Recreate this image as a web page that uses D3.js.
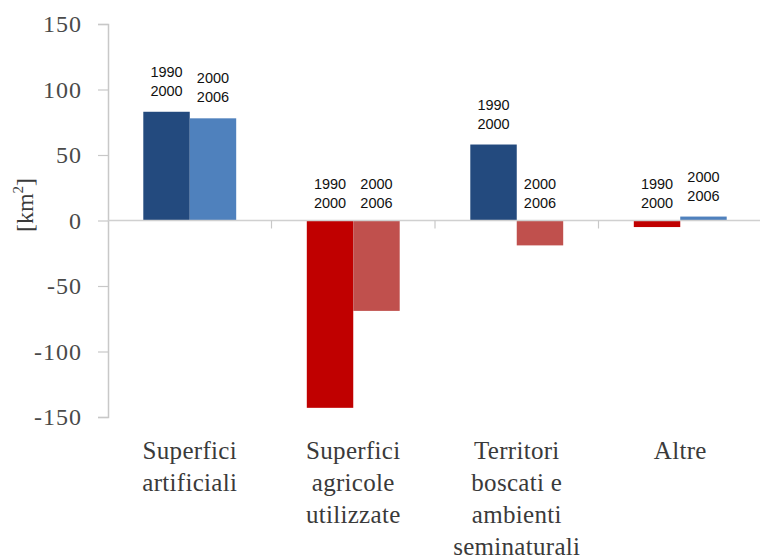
<!DOCTYPE html>
<html>
<head>
<meta charset="utf-8">
<script src="https://cdn.jsdelivr.net/npm/d3@7"></script>
<style>
  body { margin: 0; background: #fff; }
  svg { display: block; }
</style>
</head>
<body>
<div id="chart"></div>
<script>
// categories (each split into the lines shown under the axis)
const categories = ["Superfici artificiali", "Superfici agricole utilizzate", "Territori boscati e ambienti seminaturali", "Altre"];
const categoryLines = [
  ["Superfici", "artificiali"],
  ["Superfici", "agricole", "utilizzate"],
  ["Territori", "boscati e", "ambienti", "seminaturali"],
  ["Altre"]
];
const periods = ["1990-2000", "2000-2006"];
const periodLabels = [["1990", "2000"], ["2000", "2006"]];
const values1990_2000 = [83, -143, 58, -5];
const values2000_2006 = [78, -69, -19, 3];
const yTicks = [150, 100, 50, 0, -50, -100, -150];

const W = 760, H = 559;
const plot = { left: 108, right: 762, top: 24, bottom: 417 };
const serif = "Liberation Serif, Times New Roman, serif";

const svg = d3.select("#chart").append("svg")
  .attr("width", W)
  .attr("height", H);

var x0 = d3.scaleBand()
  .domain(categories)
  .range([plot.left, plot.right])
  .padding(0);

var x1 = d3.scaleBand()
  .domain(periods)
  .range([0, x0.bandwidth()])
  .paddingInner(0)
  .paddingOuter(0.76);

var y = d3.scaleLinear()
  .domain([-150, 150])
  .range([plot.bottom, plot.top]);

// colours: positive = blues, negative = reds
const colorPos = { "1990-2000": "#234a7e", "2000-2006": "#4f81bd" };
const colorNeg = { "1990-2000": "#c00000", "2000-2006": "#c0504d" };

// y axis
var yAxis = d3.axisLeft(y)
  .tickValues(yTicks)
  .tickSize(10)
  .tickPadding(16)
  .tickFormat(d => String(d).replace("\u2212", "-"));

var gy = svg.append("g")
  .attr("transform", `translate(${plot.left},0)`)
  .call(yAxis);
gy.select(".domain").attr("stroke", "#c8c8c8").attr("stroke-width", 1.5);
gy.selectAll(".tick line").attr("stroke", "#c8c8c8").attr("stroke-width", 1.2);
gy.selectAll(".tick text")
  .style("font-family", serif)
  .style("font-size", "24px")
  .style("letter-spacing", "1px")
  .attr("fill", "#4a4a4a");

// y label
svg.append("text")
  .attr("transform", `translate(33,205) rotate(-90)`)
  .attr("text-anchor", "middle")
  .style("font-family", serif)
  .style("font-size", "24px")
  .attr("fill", "#3a3a3a")
  .html("[km<tspan dy='-10' font-size='15'>2</tspan><tspan dy='10'>]</tspan>");

// rows of data for bars
const rows = [];
categories.forEach((c, i) => {
  rows.push({ cat: c, period: periods[0], value: values1990_2000[i], label: periodLabels[0] });
  rows.push({ cat: c, period: periods[1], value: values2000_2006[i], label: periodLabels[1] });
});

// bars
svg.append("g").selectAll("rect")
  .data(rows)
  .enter().append("rect")
  .attr("x", d => x0(d.cat) + x1(d.period))
  .attr("width", x1.bandwidth())
  .attr("y", d => y(Math.max(0, d.value)))
  .attr("height", d => Math.abs(y(d.value) - y(0)))
  .attr("fill", d => d.value >= 0 ? colorPos[d.period] : colorNeg[d.period]);

// x axis line at zero with separators between categories
const gx = svg.append("g");
gx.append("line")
  .attr("x1", plot.left).attr("x2", plot.right)
  .attr("y1", y(0)).attr("y2", y(0))
  .attr("stroke", "#d0d0d0").attr("stroke-width", 1.5);
gx.selectAll(".sep")
  .data(categories.slice(1))
  .enter().append("line")
  .attr("class", "sep")
  .attr("x1", d => x0(d)).attr("x2", d => x0(d))
  .attr("y1", y(0)).attr("y2", y(0) + 8)
  .attr("stroke", "#c8c8c8").attr("stroke-width", 1.2);

// period labels above each bar (or above the zero line for negatives)
const lbl = svg.append("g")
  .style("font-family", "Arial, Liberation Sans, sans-serif")
  .style("font-size", "14.5px")
  .attr("fill", "#111")
  .attr("text-anchor", "middle");

lbl.selectAll("text")
  .data(rows)
  .enter().append("text")
  .attr("x", d => x0(d.cat) + x1(d.period) + x1.bandwidth() / 2)
  .attr("y", d => d.value > 0 ? y(d.value) - 16 : y(0) - 13)
  .each(function (d) {
    d3.select(this).append("tspan")
      .attr("x", d3.select(this).attr("x"))
      .attr("dy", -19)
      .text(d.label[0]);
    d3.select(this).append("tspan")
      .attr("x", d3.select(this).attr("x"))
      .attr("dy", 19)
      .text(d.label[1]);
  });

// category labels
const catG = svg.append("g")
  .style("font-family", serif)
  .style("font-size", "25px")
  .style("letter-spacing", "0.3px")
  .attr("fill", "#3a3a3a")
  .attr("text-anchor", "middle");

categories.forEach((c, i) => {
  const cx = x0(c) + x0.bandwidth() / 2;
  categoryLines[i].forEach((ln, j) => {
    catG.append("text")
      .attr("x", cx)
      .attr("y", 459 + j * 32)
      .text(ln);
  });
});
</script>
</body>
</html>
